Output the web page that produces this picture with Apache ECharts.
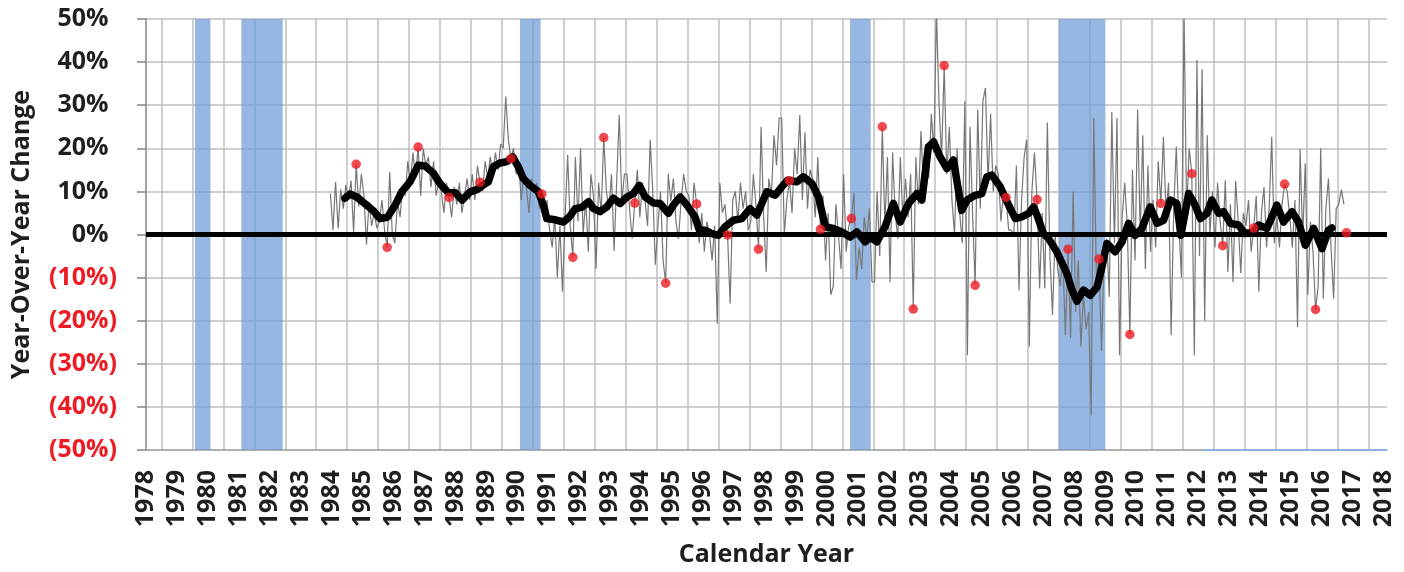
<!DOCTYPE html>
<html>
<head>
<meta charset="utf-8">
<title></title>
<script src="https://cdn.jsdelivr.net/npm/echarts@6/dist/echarts.min.js"></script>
<style>
html,body{margin:0;padding:0;background:#fff;}
#chart{width:1404px;height:572px;}
</style>
</head>
<body>
<div id="chart"></div>
<script>
// recessions, first and last month
const recessions = [['1980-02','1980-07'],['1981-08','1982-11'],['1990-08','1991-03'],['2001-04','2001-11'],['2008-01','2009-06']];

// monthly year-over-year change (%), first month below
const monthlyStart = [1984, 6];
const monthlyValues = [
    9.5,1.0,12.2,1.4,10.5,6.0,11.5,                       // 1984 Jun-Dec
    8,12.5,0.5,16.3,6.5,14,9,-2.3,7.5,2,5,1.5,             // 1985
    3,8,1,-3.0,14.5,0,-2,7.5,4,11,9,17,                    // 1986
    12,19,13,20.3,9,20,16,18,11,17,9,12,                   // 1987
    10,5,12,8.6,4,11,7,12,5,9,13,8,                        // 1988
    14,8,16,12.1,10,17,13,18,14,19,15,21,                  // 1989
    20,32,22,17.6,20,14,17,8,14,11,5,13,                   // 1990
    10,12,6,9.4,3,8,1,-3,4,-10,2,-13.3,                    // 1991
    4,18.5,2,-5.3,18,3,20,0,8,-4,14,9,                     // 1992
    -8,12,5,22.5,10,5.8,14,-3.8,12,27.7,7.6,14,            // 1993
    14,6,-1,7.3,15,4,12,7.8,2,22,10,-7,                    // 1994
    2,10,-6,-11.3,14,7.8,13,3,-1,8,14,10,                  // 1995
    9,1,12,7.1,-2,5,-4,3,0,-6,2,-20.7,                     // 1996
    12,5,7,-0.1,-16,8,10,3,12,6,10,1,                      // 1997
    3,14,7,-3.4,25,4,-8.7,13,9,23,16,27,                   // 1998
    27,0,8,12.5,5,20,14,27.7,8,23.7,6,15,                  // 1999
    13,4,18,1.2,9,-6,5,-14,-12,7,0,-8,                     // 2000
    14,-4,2,3.7,9.7,-10.6,-3,-8,4,-1,6,-11,                // 2001
    -11,10,-5,25.0,2,18,-11,19,5,-1,18,3,                  // 2002
    13,4,14,-17.3,18,7,24,10,21,13,28,19,                  // 2003
    52,30,18,39.2,14,25,8,0,20,5,-2,31,                    // 2004
    -28,25,5,-11.8,29,6,31,34,12,28,10,16,                 // 2005
    14,3,10,8.6,1,1,0,16,-13,8,18,22,                      // 2006
    -26,10,19,8.1,-12.5,5,-12.5,26,-5,-18.7,0,-8,          // 2007
    -12,-5,-23.4,-3.4,-24,10,-18,-6,-26,-14,-22,-18,       // 2008
    -42,27,-10,-5.7,-27,-5,-1,-14.5,28.5,-2,27,-28,        // 2009
    4,12,2,-23.2,15,-6,29,0,23,-8,16,-4,                   // 2010
    8,-3,17,7.2,22.7,5,12,-23.4,6,20.4,2,-10,              // 2011
    52,5,20,14.1,-28,40.5,-5,38.4,-20,23,0,10,             // 2012
    -3,12,3,-2.6,12.6,-8.7,7,-11,12.4,3,-9,5,              // 2013
    2,8,-4,1.5,9,-13.3,5,11,-3,6,22.7,-2,                  // 2014
    4,-3,7,11.7,10,4,-3,8,-21.5,19.8,-1,16.5,              // 2015
    -14,3,-4,-17.4,-12,20,-14.9,6,13,-3,-14.9,6,           // 2016
    7,10.4,7                                               // 2017 Jan-Mar
];

// 12-month moving average (decimal year, % change)
const maDates = [1984.93,1985.09,1985.31,1985.63,1985.85,1986.06,1986.30,1986.55,1986.76,1987.03,1987.30,1987.52,1987.79,1988.00,1988.27,1988.49,1988.72,1988.97,1989.19,1989.38,1989.56,1989.72,1989.94,1990.16,1990.35,1990.53,1990.69,1990.91,1991.18,1991.34,1991.45,1991.66,1991.99,1992.18,1992.37,1992.58,1992.80,1992.96,1993.17,1993.39,1993.60,1993.82,1994.04,1994.25,1994.44,1994.63,1994.90,1995.11,1995.38,1995.54,1995.76,1995.98,1996.24,1996.38,1996.57,1996.78,1997.00,1997.21,1997.48,1997.75,1998.02,1998.24,1998.56,1998.83,1999.05,1999.23,1999.53,1999.74,2000.02,2000.23,2000.45,2000.71,2000.99,2001.25,2001.47,2001.74,2001.90,2002.12,2002.38,2002.65,2002.87,2003.14,2003.41,2003.57,2003.78,2003.95,2004.16,2004.38,2004.59,2004.86,2005.03,2005.29,2005.51,2005.67,2005.83,2006.10,2006.32,2006.59,2006.80,2007.02,2007.18,2007.29,2007.50,2007.66,2007.93,2008.26,2008.42,2008.58,2008.79,2009.01,2009.23,2009.39,2009.55,2009.82,2010.04,2010.25,2010.46,2010.68,2010.95,2011.17,2011.38,2011.60,2011.81,2011.94,2012.19,2012.40,2012.57,2012.78,2012.94,2013.16,2013.32,2013.54,2013.80,2014.02,2014.29,2014.45,2014.72,2015.04,2015.26,2015.53,2015.74,2015.96,2016.23,2016.50,2016.71,2016.82];
const maValues = [8.4,9.4,8.7,6.8,5.5,3.7,4.0,6.8,9.9,12.2,16.1,15.9,14.2,11.8,9.7,9.7,8.0,9.9,10.4,11.4,12.2,15.7,16.6,16.9,18.0,15.7,13.0,11.4,9.9,6.8,3.7,3.5,2.9,4.1,6.0,6.3,7.6,6.0,5.3,6.4,8.4,7.2,8.7,9.5,11.4,8.7,7.3,7.2,4.9,6.8,8.7,6.8,4.1,1.0,1.0,0.2,-0.2,1.8,3.3,3.7,6.0,4.5,9.9,9.1,11.1,12.6,12.2,13.4,11.8,8.7,1.8,1.4,0.6,-0.6,0.6,-1.7,-0.6,-1.7,1.8,7.2,2.9,7.2,9.5,8.0,20.3,21.5,18.0,15.3,17.3,5.6,8.0,9.1,9.5,13.4,13.8,11.1,7.6,3.7,4.1,4.9,6.4,4.5,0.2,-0.9,-4.0,-9.1,-12.9,-15.5,-12.9,-14.1,-12.2,-7.5,-2.1,-4.0,-1.7,2.6,-0.2,1.4,6.4,2.6,3.3,8.0,7.2,-0.2,9.5,6.8,3.7,4.9,8.0,4.9,5.3,2.6,2.2,0.2,0.6,2.2,1.4,6.8,2.9,5.3,2.9,-2.5,1.4,-3.3,1.0,1.5];

// April reading of each year
const annualYears = [1985,1986,1987,1988,1989,1990,1991,1992,1993,1994,1995,1996,1997,1998,1999,2000,2001,2002,2003,2004,2005,2006,2007,2008,2009,2010,2011,2012,2013,2014,2015,2016,2017];
const annualValues = [16.3,-3.0,20.3,8.6,12.1,17.6,9.4,-5.3,22.5,7.3,-11.3,7.1,-0.1,-3.4,12.5,1.2,3.7,25.0,-17.3,39.2,-11.8,8.6,8.1,-3.4,-5.7,-23.2,7.2,14.1,-2.6,1.5,11.7,-17.4,0.4];

// thin blue strip along the bottom edge (end of the recession series)
const recessionTail = [2012.68, 2018.6];

const yearMin = 1978.5, yearMax = 2018.6;

function monthStart(s) { const p = s.split('-'); return +p[0] + (p[1] - 1) / 12; }
function monthEnd(s) { const p = s.split('-'); return +p[0] + p[1] / 12; }
// middle of the i-th month after the first one
function monthMid(i) { return monthlyStart[0] + (monthlyStart[1] - 1 + i + 0.5) / 12; }

const txt = '#1f1f1f', red = '#ed1c24';
const font = 'Open Sans';

const chart = echarts.init(document.getElementById('chart'), null, {renderer: 'canvas'});
const option = {
    animation: false,
    backgroundColor: '#fff',
    grid: {left: 146, right: 17, top: 19, bottom: 122, containLabel: false},
    xAxis: {
        type: 'value', min: yearMin, max: yearMax, interval: 0.5,
        name: 'Calendar Year', nameLocation: 'middle', nameGap: 92,
        nameTextStyle: {fontFamily: font, fontWeight: 'bold', fontSize: 25, color: txt},
        axisLine: {onZero: false, lineStyle: {color: '#a6a6a6', width: 1.5}},
        axisTick: {show: false},
        axisLabel: {
            rotate: 90, margin: 20, fontFamily: font, fontWeight: 'bold', fontSize: 25, color: txt,
            formatter: function (v) {
                const f = v - Math.floor(v);
                return Math.abs(f - 0.5) < 1e-6 ? String(Math.floor(v)) : '';
            }
        },
        splitLine: {show: true, showMaxLine: false, lineStyle: {color: ['rgba(0,0,0,0)', '#bfbfbf'], width: 1.5}}
    },
    yAxis: {
        type: 'value', min: -50, max: 50, interval: 10,
        name: 'Year-Over-Year Change', nameLocation: 'middle', nameGap: 112,
        nameTextStyle: {fontFamily: font, fontWeight: 'bold', fontSize: 25, color: txt},
        axisLine: {show: true, lineStyle: {color: '#868686', width: 1.5}},
        axisTick: {show: true, length: 9, lineStyle: {color: '#868686', width: 1.5}},
        splitLine: {show: true, lineStyle: {color: '#bfbfbf', width: 1.5}},
        axisLabel: {
            margin: 29,
            formatter: function (v) {
                return v < 0 ? '{n|(' + (-v) + '%)}' : '{p|' + v + '%}{h|)}';
            },
            rich: {
                n: {fontFamily: font, fontWeight: 'bold', fontSize: 25, color: red},
                p: {fontFamily: font, fontWeight: 'bold', fontSize: 25, color: txt},
                h: {fontFamily: font, fontWeight: 'bold', fontSize: 25, color: 'rgba(0,0,0,0)'}
            }
        }
    },
    series: [
        {
            name: 'recessions', type: 'line', data: [], z: 1, silent: true,
            markArea: {
                silent: true,
                itemStyle: {color: 'rgba(110,155,215,0.72)'},
                data: recessions.map(r => [{xAxis: monthStart(r[0])}, {xAxis: monthEnd(r[1])}])
            },
            markLine: {
                silent: true, symbol: ['none', 'none'], label: {show: false},
                lineStyle: {color: '#000', width: 5, type: 'solid'},
                data: [{yAxis: 0}]
            }
        },
        {
            name: 'recessionTail', type: 'line', z: 2, silent: true, showSymbol: false,
            lineStyle: {color: '#8db3e2', width: 2},
            data: recessionTail.map(x => [x, -50])
        },
        {
            name: 'monthly', type: 'line', z: 3, showSymbol: false, clip: true,
            lineStyle: {color: '#777777', width: 1.2},
            data: monthlyValues.map((v, i) => [monthMid(i), v])
        },
        {
            name: 'moving average', type: 'line', z: 4, showSymbol: false,
            lineStyle: {color: '#000', width: 7.5, cap: 'round', join: 'round'},
            data: maDates.map((d, i) => [d, maValues[i]])
        },
        {
            name: 'annual', type: 'scatter', z: 5, symbolSize: 9.5,
            itemStyle: {color: '#ed1c24'},
            data: annualYears.map((y, i) => [y + 3.5 / 12, annualValues[i]])
        }
    ]
};
chart.setOption(option);
</script>
</body>
</html>
